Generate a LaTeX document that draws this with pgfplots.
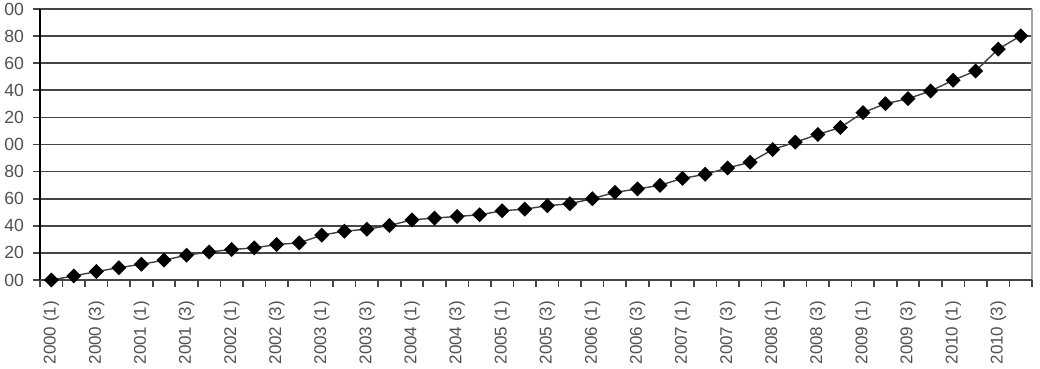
\documentclass[border=0pt]{standalone}
\usepackage{pgfplots}
\pgfplotsset{compat=1.18}
\usepackage{fontspec}
\setmainfont{Liberation Sans}
\usetikzlibrary{calc}
\definecolor{labgray}{HTML}{505050}
\definecolor{gridc}{HTML}{454545}
\begin{document}
\begin{tikzpicture}
\begin{axis}[
  scale only axis,
  width=496pt, height=135.5pt,
  xmin=-0.5, xmax=43.5,
  ymin=0, ymax=200,
  axis line style={draw=none},
  ytick={0,20,...,200},
  yticklabels={00,20,40,60,80,00,20,40,60,80,00},
  ymajorgrids,
  major grid style={gridc, line width=0.85pt},
  xtick={0,2,...,42},
  xticklabels={2000 (1),2000 (3),2001 (1),2001 (3),2002 (1),2002 (3),2003 (1),2003 (3),2004 (1),2004 (3),2005 (1),2005 (3),2006 (1),2006 (3),2007 (1),2007 (3),2008 (1),2008 (3),2009 (1),2009 (3),2010 (1),2010 (3)},
  minor xtick={-0.5,0.5,...,43.5},
  tick align=outside,
  x tick style={draw=none},
  y tick style={gridc, line width=0.85pt},
  ytick pos=left,
  major tick length=3.5pt,
  minor x tick style={draw=gridc, line width=0.85pt},
  minor tick length=3.5pt,
  xtick pos=bottom,
  tick label style={font=\fontsize{8.5pt}{10pt}\selectfont, text=labgray},
  yticklabel style={font=\fontsize{8.8pt}{10pt}\selectfont, anchor=east, xshift=-1pt},
  xticklabel style={rotate=90, anchor=east, yshift=0pt, xshift=-3.5pt},
  clip=false,
]
\draw[gray!70, line width=0.85pt] (rel axis cs:1,0) -- (rel axis cs:1,1);
\draw[black, line width=0.85pt] (rel axis cs:0,0) -- (rel axis cs:0,1);
\draw[gridc, line width=0.85pt] (rel axis cs:0,0) -- (rel axis cs:1,0);
\addplot[color=black!75, line width=0.7pt, mark=square*, mark size=2.3pt,
  mark options={rotate=45, fill=black, draw=black}]
  coordinates {
  (0,0) (1,3) (2,6.2) (3,9.1) (4,11.6) (5,14.6) (6,18.3) (7,20.7) (8,22.5) (9,23.7)
  (10,26.2) (11,27.4) (12,33.1) (13,36) (14,37.5) (15,40.2) (16,44.4) (17,45.7) (18,46.9) (19,48.1)
  (20,51.1) (21,52.3) (22,54.8) (23,56.3) (24,60) (25,64.7) (26,67.2) (27,69.9) (28,75) (29,78)
  (30,82.7) (31,86.9) (32,96.3) (33,101.7) (34,107.4) (35,112.6) (36,123.5) (37,130.1) (38,133.8) (39,139.5)
  (40,147.4) (41,154.3) (42,170.4) (43,180.2)
  };
\end{axis}
\pgfresetboundingbox
\path[use as bounding box] ($(current axis.south west)+(-20pt,-44pt)$) rectangle ($(current axis.north east)+(4pt,4.5pt)$);
\end{tikzpicture}
\end{document}
